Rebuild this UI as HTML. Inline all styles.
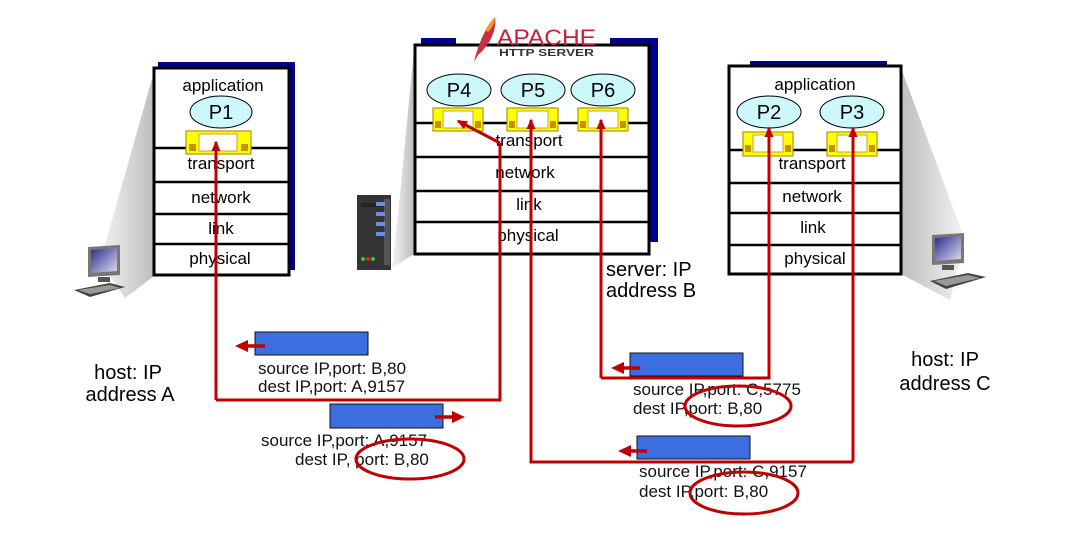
<!DOCTYPE html>
<html><head><meta charset="utf-8"><style>
html,body{margin:0;padding:0;background:#fff;}
svg{display:block;font-family:"Liberation Sans",sans-serif;}
</style></head><body>
<svg width="1071" height="557" viewBox="0 0 1071 557" xmlns="http://www.w3.org/2000/svg">
<defs>
<linearGradient id="wl" x1="1" y1="0" x2="0" y2="0"><stop offset="0" stop-color="#bdbdbd"/><stop offset="1" stop-color="#f4f4f4"/></linearGradient>
<linearGradient id="wr" x1="0" y1="0" x2="1" y2="0"><stop offset="0" stop-color="#bdbdbd"/><stop offset="1" stop-color="#f4f4f4"/></linearGradient>
<linearGradient id="scr" x1="0" y1="0" x2="1" y2="1"><stop offset="0" stop-color="#2a2a90"/><stop offset="1" stop-color="#dde"/></linearGradient>
<marker id="ah" markerWidth="4" markerHeight="4" refX="3" refY="1.5" orient="auto" markerUnits="strokeWidth"><path d="M0,0 L3.5,1.5 L0,3 z" fill="#c00000"/></marker>
</defs>

<!-- wedges -->
<polygon points="154,72 154,276 125,298 100,262" fill="url(#wl)"/>
<polygon points="414,50 414,254 392,268 398,215" fill="url(#wl)"/>
<polygon points="901,68 901,274 950,300 965,240" fill="url(#wr)"/>

<!-- laptop A -->
<g transform="translate(70,245)">
<polygon points="18,2 50,0 50,30 18,32" fill="#777"/>
<polygon points="21,5 47,3 47,26 21,28" fill="url(#scr)"/>
<rect x="28" y="32" width="12" height="5" fill="#555"/>
<polygon points="4,45 40,38 55,42 20,52" fill="#444"/>
<polygon points="8,45 40,40 50,43 20,49" fill="#999"/>
</g>
<!-- laptop C -->
<g transform="translate(928,233)">
<polygon points="4,2 36,0 36,30 4,32" fill="#777"/>
<polygon points="7,5 33,3 33,26 7,28" fill="url(#scr)"/>
<rect x="14" y="32" width="12" height="5" fill="#555"/>
<polygon points="2,48 40,40 58,44 18,56" fill="#444"/>
<polygon points="6,48 40,42 52,45 18,53" fill="#999"/>
</g>
<!-- server icon -->
<g transform="translate(357,195)">
<rect x="0" y="0" width="34" height="75" fill="#333"/>
<rect x="27" y="4" width="6" height="66" fill="#555"/>
<rect x="4" y="8" width="22" height="4" fill="#222"/>
<rect x="19" y="7" width="9" height="4" fill="#6a8ee8"/>
<rect x="19" y="17" width="9" height="4" fill="#6a8ee8"/>
<rect x="19" y="27" width="9" height="4" fill="#6a8ee8"/>
<rect x="19" y="37" width="9" height="4" fill="#6a8ee8"/>
<circle cx="6" cy="64" r="2" fill="#3c3"/><circle cx="11" cy="64" r="2" fill="#e22"/><circle cx="16" cy="64" r="2" fill="#3c3"/>
</g>

<!-- Host A stack -->
<rect x="158" y="62" width="137" height="208" fill="#000090"/>
<rect x="154" y="68" width="135" height="207" fill="#fff" stroke="#000" stroke-width="3"/>
<g stroke="#000" stroke-width="2.5"><line x1="154" y1="148" x2="289" y2="148"/><line x1="154" y1="182" x2="289" y2="182"/><line x1="154" y1="214" x2="289" y2="214"/><line x1="154" y1="244" x2="289" y2="244"/></g>
<g font-size="17" text-anchor="middle" fill="#000">
<text x="223" y="91">application</text><text x="221" y="169">transport</text><text x="221" y="203">network</text><text x="221" y="234">link</text><text x="220" y="264">physical</text></g>
<ellipse cx="221" cy="112" rx="31" ry="16" fill="#ccf7fb" stroke="#000" stroke-width="1"/>
<text x="221" y="119" font-size="20" text-anchor="middle">P1</text>

<!-- Server stack -->
<rect x="421" y="38" width="237" height="204" fill="#000090"/>
<rect x="456" y="36" width="154" height="10" fill="#fff"/>
<rect x="415" y="45" width="234" height="209" fill="#fff" stroke="#000" stroke-width="3"/>
<g stroke="#000" stroke-width="2.5"><line x1="415" y1="123" x2="649" y2="123"/><line x1="415" y1="157" x2="649" y2="157"/><line x1="415" y1="191" x2="649" y2="191"/><line x1="415" y1="222" x2="649" y2="222"/></g>
<g font-size="17" text-anchor="middle"><text x="529" y="146">transport</text><text x="525" y="178">network</text><text x="529" y="210">link</text><text x="528" y="241">physical</text></g>
<ellipse cx="459" cy="90" rx="32" ry="16" fill="#ccf7fb" stroke="#000"/><text x="459" y="97" font-size="20" text-anchor="middle">P4</text>
<ellipse cx="533" cy="90" rx="32" ry="16" fill="#ccf7fb" stroke="#000"/><text x="533" y="97" font-size="20" text-anchor="middle">P5</text>
<ellipse cx="603" cy="90" rx="32" ry="16" fill="#ccf7fb" stroke="#000"/><text x="603" y="97" font-size="20" text-anchor="middle">P6</text>
<!-- apache logo -->
<path d="M474,62 C478,45 485,28 495,17 C497,30 490,45 478,55 Z" fill="#c83040"/>
<path d="M485,30 C489,24 492,20 495,17 C495,23 492,28 488,32 Z" fill="#f29a30"/>
<text x="497" y="45" font-size="22" fill="#c8203a" textLength="99" lengthAdjust="spacingAndGlyphs">APACHE</text>
<text x="499" y="56" font-size="10" font-weight="bold" fill="#333" textLength="95" lengthAdjust="spacingAndGlyphs">HTTP SERVER</text>

<!-- Host C stack -->
<rect x="750" y="61" width="137" height="6" fill="#000090"/>
<rect x="729" y="66" width="172" height="208" fill="#fff" stroke="#000" stroke-width="3"/>
<g stroke="#000" stroke-width="2.5"><line x1="729" y1="150" x2="901" y2="150"/><line x1="729" y1="183" x2="901" y2="183"/><line x1="729" y1="213" x2="901" y2="213"/><line x1="729" y1="245" x2="901" y2="245"/></g>
<g font-size="17" text-anchor="middle"><text x="815" y="90">application</text><text x="812" y="169">transport</text><text x="812" y="202">network</text><text x="813" y="233">link</text><text x="815" y="264">physical</text></g>
<ellipse cx="769" cy="112" rx="32" ry="16" fill="#ccf7fb" stroke="#000"/><text x="769" y="119" font-size="20" text-anchor="middle">P2</text>
<ellipse cx="852" cy="112" rx="32" ry="16" fill="#ccf7fb" stroke="#000"/><text x="852" y="119" font-size="20" text-anchor="middle">P3</text>

<!-- sockets -->
<g>
<g transform="translate(186,131)"><rect width="65" height="23" fill="#ffff00" stroke="#a08000"/><rect x="13" y="3" width="38" height="17" fill="#fff" stroke="#c8a040"/><rect x="3" y="13" width="7" height="7" fill="#c89000"/><rect x="55" y="13" width="7" height="7" fill="#c89000"/></g>
<g transform="translate(433,108)"><rect width="50" height="23" fill="#ffff00" stroke="#a08000"/><rect x="10" y="3" width="30" height="17" fill="#fff" stroke="#c8a040"/><rect x="2" y="13" width="6" height="7" fill="#c89000"/><rect x="42" y="13" width="6" height="7" fill="#c89000"/></g>
<g transform="translate(507,108)"><rect width="51" height="23" fill="#ffff00" stroke="#a08000"/><rect x="10" y="3" width="31" height="17" fill="#fff" stroke="#c8a040"/><rect x="2" y="13" width="6" height="7" fill="#c89000"/><rect x="43" y="13" width="6" height="7" fill="#c89000"/></g>
<g transform="translate(578,108)"><rect width="50" height="23" fill="#ffff00" stroke="#a08000"/><rect x="10" y="3" width="30" height="17" fill="#fff" stroke="#c8a040"/><rect x="2" y="13" width="6" height="7" fill="#c89000"/><rect x="42" y="13" width="6" height="7" fill="#c89000"/></g>
<g transform="translate(743,132)"><rect width="50" height="24" fill="#ffff00" stroke="#a08000"/><rect x="10" y="3" width="30" height="17" fill="#fff" stroke="#c8a040"/><rect x="2" y="13" width="6" height="7" fill="#c89000"/><rect x="42" y="13" width="6" height="7" fill="#c89000"/></g>
<g transform="translate(827,132)"><rect width="50" height="24" fill="#ffff00" stroke="#a08000"/><rect x="10" y="3" width="30" height="17" fill="#fff" stroke="#c8a040"/><rect x="2" y="13" width="6" height="7" fill="#c89000"/><rect x="42" y="13" width="6" height="7" fill="#c89000"/></g>
</g>

<!-- red paths -->
<g fill="none" stroke="#c00000" stroke-width="3">
<path d="M216,400 L500,400 L500,143"/>
<path d="M500,143 L458,121" marker-end="url(#ah)"/>
<path d="M216,400 L216,142" marker-end="url(#ah)"/>
<path d="M853,462 L853,128" marker-end="url(#ah)"/>
<path d="M853,462 L531,462 L531,120" marker-end="url(#ah)"/>
<path d="M601,378 L769,378 L769,128" marker-end="url(#ah)"/>
<path d="M601,378 L601,120" marker-end="url(#ah)"/>
</g>

<!-- segments -->
<rect x="255" y="332" width="113" height="23" fill="#3c6ee0" stroke="#111"/>
<rect x="330" y="404" width="113" height="24" fill="#3c6ee0" stroke="#111"/>
<rect x="630" y="353" width="113" height="23" fill="#3c6ee0" stroke="#111"/>
<rect x="637" y="436" width="113" height="23" fill="#3c6ee0" stroke="#111"/>
<g stroke="#c00000" stroke-width="3.5">
<line x1="265" y1="346" x2="246" y2="346"/><line x1="435" y1="417" x2="454" y2="417"/>
<line x1="640" y1="368" x2="623" y2="368"/><line x1="647" y1="451" x2="630" y2="451"/></g>
<g fill="#c00000">
<polygon points="235,346 248,340 248,352"/><polygon points="465,417 452,411 452,423"/>
<polygon points="611,368 624,362 624,374"/><polygon points="618,451 631,445 631,457"/></g>

<g font-size="17" fill="#111">
<text x="258" y="374">source IP,port: B,80</text>
<text x="258" y="392">dest IP,port: A,9157</text>
<text x="261" y="446">source IP,port: A,9157</text>
<text x="295" y="465">dest IP, port: B,80</text>
<text x="633" y="395">source IP,port: C,5775</text>
<text x="633" y="414">dest IP,port: B,80</text>
<text x="639" y="477">source IP,port: C,9157</text>
<text x="639" y="497">dest IP,port: B,80</text>
</g>
<g fill="none" stroke="#c00000" stroke-width="3">
<ellipse cx="410" cy="459" rx="54" ry="20"/>
<ellipse cx="738" cy="406" rx="53" ry="20"/>
<ellipse cx="744" cy="493" rx="54" ry="21"/>
</g>

<g font-size="20" fill="#000">
<text x="606" y="276">server: IP</text>
<text x="606" y="297">address B</text>
<text x="128" y="379" text-anchor="middle">host: IP</text>
<text x="130" y="401" text-anchor="middle">address A</text>
<text x="945" y="366" text-anchor="middle">host: IP</text>
<text x="945" y="390" text-anchor="middle">address C</text>
</g>
</svg>
</body></html>
